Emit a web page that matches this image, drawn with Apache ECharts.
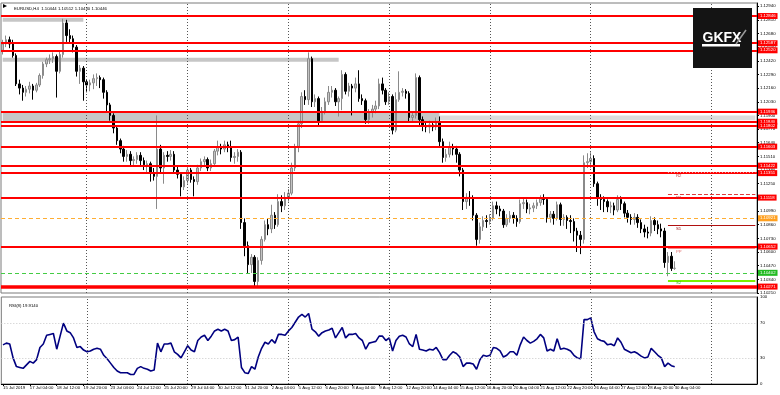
<!DOCTYPE html>
<html><head><meta charset="utf-8">
<script src="https://cdn.jsdelivr.net/npm/echarts@6/dist/echarts.min.js"></script>
<style>html,body{margin:0;padding:0;background:#fff}#c{width:780px;height:395px}</style>
</head><body><div id="c"></div>
<script>
// ---- x axis tick labels (one every 8 H4 bars, starting at the first visible bar)
const xTickLabels = ["15 Jul 2019","17 Jul 04:00","18 Jul 12:00","19 Jul 20:00","23 Jul 04:00","24 Jul 12:00","25 Jul 20:00","29 Jul 04:00","30 Jul 12:00","31 Jul 20:00","2 Aug 04:00","5 Aug 12:00","6 Aug 20:00","8 Aug 04:00","9 Aug 12:00","12 Aug 20:00","14 Aug 04:00","15 Aug 12:00","16 Aug 20:00","20 Aug 04:00","21 Aug 12:00","22 Aug 20:00","26 Aug 04:00","27 Aug 12:00","28 Aug 20:00","30 Aug 04:00"];
const tickStep = 8;
const totalSlots = 225;            // 201 bars + empty future space
const weekLineSlots = [25,55,85,115,145,175,211];

// ---- candles [open, close, low, high]
const candles = [
[1.1252,1.1258,1.1248,1.1262],[1.1258,1.1262,1.1255,1.1266],[1.1262,1.1258,1.1254,1.1265],[1.1258,1.1247,1.1245,1.1262],[1.1247,1.1220,1.1218,1.1249],
[1.1220,1.1216,1.1210,1.1224],[1.1216,1.1212,1.1204,1.1219],[1.1212,1.1215,1.1208,1.1218],[1.1215,1.1218,1.1211,1.1222],[1.1218,1.1214,1.1205,1.1220],
[1.1214,1.1219,1.1212,1.1221],[1.1219,1.1228,1.1217,1.1230],[1.1228,1.1239,1.1225,1.1241],[1.1239,1.1243,1.1236,1.1245],[1.1243,1.1244,1.1239,1.1248],
[1.1244,1.1246,1.1240,1.1250],[1.1246,1.1232,1.1207,1.1248],[1.1232,1.1248,1.1230,1.1252],[1.1248,1.1278,1.1245,1.1282],[1.1278,1.1266,1.1260,1.1281],
[1.1266,1.1263,1.1258,1.1272],[1.1263,1.1255,1.1250,1.1266],[1.1255,1.1232,1.1227,1.1257],[1.1232,1.1235,1.1220,1.1238],[1.1235,1.1222,1.1204,1.1237],
[1.1222,1.1219,1.1212,1.1224],[1.1219,1.1221,1.1213,1.1224],[1.1221,1.1225,1.1215,1.1229],[1.1225,1.1226,1.1218,1.1230],[1.1226,1.1224,1.1216,1.1228],
[1.1224,1.1212,1.1206,1.1226],[1.1212,1.1200,1.1194,1.1214],[1.1200,1.1190,1.1185,1.1202],[1.1190,1.1178,1.1173,1.1192],[1.1178,1.1166,1.1162,1.1180],
[1.1166,1.1158,1.1154,1.1168],[1.1158,1.1151,1.1146,1.1161],[1.1151,1.1153,1.1146,1.1157],[1.1153,1.1147,1.1142,1.1156],[1.1147,1.1148,1.1142,1.1151],
[1.1148,1.1152,1.1144,1.1155],[1.1152,1.1147,1.1141,1.1155],[1.1147,1.1143,1.1138,1.1150],[1.1143,1.1144,1.1136,1.1147],[1.1144,1.1135,1.1127,1.1146],
[1.1135,1.1132,1.1128,1.1140],[1.1132,1.1158,1.1101,1.1190],[1.1158,1.1140,1.1135,1.1162],[1.1140,1.1152,1.1125,1.1155],[1.1152,1.1151,1.1146,1.1156],
[1.1151,1.1153,1.1147,1.1157],[1.1153,1.1138,1.1135,1.1156],[1.1138,1.1134,1.1130,1.1141],[1.1134,1.1122,1.1113,1.1136],[1.1122,1.1128,1.1119,1.1132],
[1.1128,1.1138,1.1125,1.1141],[1.1138,1.1129,1.1126,1.1140],[1.1129,1.1127,1.1113,1.1132],[1.1127,1.1140,1.1124,1.1143],[1.1140,1.1146,1.1137,1.1149],
[1.1146,1.1148,1.1142,1.1151],[1.1148,1.1140,1.1137,1.1150],[1.1140,1.1144,1.1137,1.1148],[1.1144,1.1156,1.1141,1.1158],[1.1156,1.1160,1.1152,1.1166],
[1.1160,1.1158,1.1153,1.1163],[1.1158,1.1162,1.1155,1.1166],[1.1162,1.1160,1.1155,1.1165],[1.1160,1.1150,1.1146,1.1166],[1.1150,1.1151,1.1144,1.1155],
[1.1151,1.1155,1.1146,1.1158],[1.1155,1.1088,1.1082,1.1157],[1.1088,1.1066,1.1056,1.1092],[1.1066,1.1048,1.1040,1.1070],[1.1048,1.1055,1.1040,1.1058],
[1.1055,1.1032,1.1027,1.1057],[1.1032,1.1052,1.1027,1.1055],[1.1052,1.1072,1.1048,1.1075],[1.1072,1.1086,1.1070,1.1090],[1.1086,1.1082,1.1076,1.1092],
[1.1082,1.1095,1.1078,1.1105],[1.1095,1.1086,1.1082,1.1098],[1.1086,1.1108,1.1084,1.1115],[1.1108,1.1104,1.1098,1.1114],[1.1104,1.1112,1.1100,1.1117],
[1.1112,1.1116,1.1108,1.1120],[1.1116,1.1140,1.1114,1.1145],[1.1140,1.1160,1.1137,1.1163],[1.1160,1.1182,1.1155,1.1185],[1.1182,1.1208,1.1178,1.1212],
[1.1208,1.1205,1.1200,1.1214],[1.1205,1.1244,1.1200,1.1250],[1.1244,1.1203,1.1198,1.1246],[1.1203,1.1206,1.1198,1.1210],[1.1206,1.1185,1.1180,1.1208],
[1.1185,1.1194,1.1183,1.1198],[1.1194,1.1203,1.1191,1.1207],[1.1203,1.1212,1.1200,1.1218],[1.1212,1.1214,1.1207,1.1218],[1.1214,1.1203,1.1199,1.1216],
[1.1203,1.1206,1.1189,1.1208],[1.1206,1.1229,1.1195,1.1233],[1.1229,1.1213,1.1210,1.1231],[1.1213,1.1218,1.1208,1.1221],[1.1218,1.1216,1.1190,1.1220],
[1.1216,1.1220,1.1212,1.1226],[1.1220,1.1206,1.1203,1.1233],[1.1206,1.1204,1.1200,1.1210],[1.1204,1.1186,1.1182,1.1206],[1.1186,1.1193,1.1182,1.1196],
[1.1193,1.1196,1.1188,1.1200],[1.1196,1.1199,1.1192,1.1204],[1.1199,1.1220,1.1196,1.1225],[1.1220,1.1214,1.1210,1.1226],[1.1214,1.1203,1.1200,1.1216],
[1.1203,1.1208,1.1200,1.1212],[1.1208,1.1176,1.1172,1.1210],[1.1176,1.1205,1.1174,1.1212],[1.1205,1.1212,1.1203,1.1232],[1.1212,1.1213,1.1208,1.1216],
[1.1213,1.1211,1.1206,1.1215],[1.1211,1.1188,1.1183,1.1213],[1.1188,1.1190,1.1184,1.1193],[1.1190,1.1226,1.1187,1.1230],[1.1226,1.1186,1.1180,1.1228],
[1.1186,1.1180,1.1175,1.1189],[1.1180,1.1179,1.1174,1.1184],[1.1179,1.1181,1.1173,1.1185],[1.1181,1.1179,1.1175,1.1184],[1.1179,1.1183,1.1176,1.1188],
[1.1183,1.1165,1.1160,1.1189],[1.1165,1.1150,1.1145,1.1168],[1.1150,1.1153,1.1146,1.1158],[1.1153,1.1160,1.1150,1.1165],[1.1160,1.1158,1.1152,1.1163],
[1.1158,1.1153,1.1145,1.1161],[1.1153,1.1138,1.1132,1.1155],[1.1138,1.1108,1.1100,1.1140],[1.1108,1.1112,1.1101,1.1116],[1.1112,1.1111,1.1104,1.1118],
[1.1111,1.1095,1.1090,1.1114],[1.1095,1.1072,1.1066,1.1097],[1.1072,1.1084,1.1068,1.1088],[1.1084,1.1090,1.1080,1.1094],[1.1090,1.1089,1.1083,1.1095],
[1.1089,1.1092,1.1086,1.1096],[1.1092,1.1104,1.1090,1.1108],[1.1104,1.1101,1.1096,1.1108],[1.1101,1.1099,1.1094,1.1104],[1.1099,1.1086,1.1083,1.1101],
[1.1086,1.1092,1.1084,1.1096],[1.1092,1.1095,1.1088,1.1099],[1.1095,1.1092,1.1087,1.1098],[1.1092,1.1089,1.1084,1.1095],[1.1089,1.1106,1.1087,1.1110],
[1.1106,1.1107,1.1101,1.1111],[1.1107,1.1101,1.1097,1.1110],[1.1101,1.1102,1.1096,1.1106],[1.1102,1.1104,1.1098,1.1107],[1.1104,1.1107,1.1101,1.1110],
[1.1107,1.1111,1.1104,1.1114],[1.1111,1.1110,1.1105,1.1115],[1.1110,1.1093,1.1088,1.1112],[1.1093,1.1096,1.1088,1.1099],[1.1096,1.1092,1.1086,1.1099],
[1.1092,1.1105,1.1090,1.1108],[1.1105,1.1091,1.1085,1.1107],[1.1091,1.1093,1.1085,1.1096],[1.1093,1.1090,1.1082,1.1095],[1.1090,1.1089,1.1078,1.1095],
[1.1089,1.1080,1.1070,1.1092],[1.1080,1.1076,1.1060,1.1083],[1.1076,1.1072,1.1058,1.1080],[1.1072,1.1145,1.1068,1.1152],[1.1145,1.1146,1.1140,1.1154],
[1.1146,1.1149,1.1140,1.1155],[1.1149,1.1125,1.1122,1.1152],[1.1125,1.1112,1.1104,1.1127],[1.1112,1.1110,1.1100,1.1115],[1.1110,1.1108,1.1098,1.1113],
[1.1108,1.1103,1.1098,1.1110],[1.1103,1.1104,1.1097,1.1108],[1.1104,1.1100,1.1095,1.1107],[1.1100,1.1110,1.1098,1.1114],[1.1110,1.1106,1.1100,1.1113],
[1.1106,1.1097,1.1093,1.1108],[1.1097,1.1093,1.1088,1.1100],[1.1093,1.1091,1.1086,1.1096],[1.1091,1.1093,1.1086,1.1097],[1.1093,1.1088,1.1083,1.1096],
[1.1088,1.1082,1.1078,1.1091],[1.1082,1.1079,1.1074,1.1086],[1.1079,1.1078,1.1073,1.1084],[1.1078,1.1090,1.1075,1.1094],[1.1090,1.1086,1.1080,1.1093],
[1.1086,1.1082,1.1077,1.1090],[1.1082,1.1080,1.1074,1.1087],[1.1080,1.1050,1.1045,1.1083],[1.1050,1.1056,1.1037,1.1060],[1.1056,1.10444,1.1042,1.1060],
[1.10444,1.10446,1.10430,1.10512]
];

// ---- RSI(8)
const rsi = [
45,47,46,30,20,19,18,22,26,24,
28,42,46,56,57,58,40,55,70,61,
59,53,42,43,39,37,38,40,41,40,
33,29,24,19,15,13,13,13,11,11,
18,20,18,17,15,16,47,37,46,46,
47,37,34,30,37,44,39,37,50,54,
56,50,55,61,63,61,63,61,50,51,
54,19,13,12,20,17,31,41,48,46,
51,47,57,57,56,61,65,71,77,80,
77,81,63,60,55,59,61,62,64,53,
59,65,53,57,57,58,53,50,40,47,
48,49,55,55,50,53,38,50,55,56,
54,46,43,57,40,39,38,40,39,42,
36,28,28,33,37,35,31,20,24,24,
23,17,28,33,32,33,42,41,38,31,
33,37,37,33,45,54,50,47,49,52,
57,53,38,40,38,52,40,41,40,38,
33,30,29,74,74,76,60,52,50,49,
45,46,44,53,48,40,38,36,37,35,
32,30,31,41,37,33,30,20,24,21,
19.9
];
const rsiLevels = [30, 70];
const rsiLabels = [0, 30, 70, 100];

// ---- price axis
const priceMin = 1.1021, priceMax = 1.1297, priceStep = 0.0013;

// ---- drawn objects (price levels)
const srLevels = [1.12846,1.12587,1.12520,1.11936,1.11840,1.11802,1.11603,1.11422,1.11351,1.11118,1.10652];
const mainSupport = 1.10271;
const zones = [[1.12830,1.12791,0,24],[1.12449,1.12411,0,100],[1.11926,1.11831,0,130]];
const zoneLight = [1.11900,1.11855,130,224];
const d1High = 1.10921, d1Low = 1.10402, bidPrice = 1.10446;
const pivotNames = ["R2","R1","S1","PP","S2"];
const pivotValues = [1.11355,1.11146,1.10851,1.10633,1.10331];
const pivotStart = 198, pivotEnd = 224;

const FONT = 'Liberation Sans, Arial, sans-serif';
const FS = 4.3;

const cats = [];
for (let i = 0; i < totalSlots; i++) cats.push(String(i));
const tickMap = {};
xTickLabels.forEach((t, j) => { tickMap[j * tickStep] = t; });
const isTick = (idx) => tickMap[idx] !== undefined;

function tag(bg, txt, col) {
  return {show: true, position: 'end', distance: 1, formatter: txt, backgroundColor: bg,
    color: col || '#fff', fontSize: FS, fontFamily: FONT, padding: [1, 2, 0, 2], lineHeight: 5};
}

const mlData = [];
weekLineSlots.forEach(s => mlData.push({xAxis: s, lineStyle: {color: '#555', type: [1, 2], width: 1}, label: {show: false}}));
srLevels.forEach(v => mlData.push({yAxis: v, lineStyle: {color: '#ff0000', width: 2, type: 'solid'}, label: tag('#ff0000', v.toFixed(5))}));
mlData.push({yAxis: mainSupport, lineStyle: {color: '#ff0000', width: 3.5, type: 'solid'}, label: tag('#ff0000', mainSupport.toFixed(5))});
mlData.push({yAxis: d1High, lineStyle: {color: '#ffae33', width: 1, type: [4, 3]}, label: tag('#ffa020', d1High.toFixed(5))});
mlData.push({yAxis: d1Low, lineStyle: {color: '#44cc44', width: 1, type: [4, 3]}, label: tag('#22bb22', d1Low.toFixed(5))});
mlData.push({yAxis: bidPrice, lineStyle: {opacity: 0}, label: tag('#000000', bidPrice.toFixed(5))});
const pivotStyles = {
  R2: {color: '#f0a0a0', width: 1, type: [1, 2]},
  R1: {color: '#e03a3a', width: 1, type: [4, 2]},
  S1: {color: '#b01010', width: 1, type: 'solid'},
  PP: {color: '#f08a8a', width: 1, type: 'solid'},
  S2: {color: '#7cf000', width: 2, type: 'solid'}
};
const pivotTextCol = {R2: '#c04040', R1: '#c03030', S1: '#a01010', PP: '#e07070', S2: '#40b020'};
pivotNames.forEach((n, k) => {
  mlData.push([{coord: [pivotStart, pivotValues[k]], lineStyle: pivotStyles[n],
    label: {show: true, position: 'insideStartBottom', formatter: n, color: pivotTextCol[n], fontSize: FS, fontFamily: FONT, distance: [8, 1]}},
    {coord: [pivotEnd, pivotValues[k]]}]);
});
mlData.push([{coord: [pivotStart, d1High], lineStyle: {opacity: 0},
  label: {show: true, position: 'insideStartBottom', formatter: 'D1 High', color: '#e08a00', fontSize: FS, fontFamily: FONT, distance: [1, 1]}},
  {coord: [pivotEnd, d1High]}]);
mlData.push([{coord: [pivotStart, d1Low], lineStyle: {opacity: 0},
  label: {show: true, position: 'insideStartBottom', formatter: 'D1 Low', color: '#30a030', fontSize: FS, fontFamily: FONT, distance: [1, 1]}},
  {coord: [pivotEnd, d1Low]}]);

const maData = zones.map(z => [{xAxis: z[2], yAxis: z[0]}, {xAxis: z[3], yAxis: z[1]}]);
maData.push([{xAxis: zoneLight[2], yAxis: zoneLight[0], itemStyle: {color: '#dcdcdc'}}, {xAxis: zoneLight[3], yAxis: zoneLight[1]}]);

const rsiMl = [];
weekLineSlots.forEach(s => rsiMl.push({xAxis: s, lineStyle: {color: '#555', type: [1, 2], width: 1}}));
rsiLevels.forEach(v => rsiMl.push({yAxis: v, lineStyle: {color: '#c8c8c8', type: [1, 2], width: 1}}));

const chart = echarts.init(document.getElementById('c'), null, {renderer: 'canvas'});
chart.setOption({
  animation: false,
  backgroundColor: '#ffffff',
  textStyle: {fontFamily: FONT},
  title: [
    {text: 'EURUSD,H4  1.10444 1.10512 1.10430 1.10446', left: 9, top: 2,
      textStyle: {fontSize: FS, fontWeight: 'normal', color: '#000', fontFamily: FONT}},
    {text: 'RSI(8) 19.9140', left: 4, top: 299,
      textStyle: {fontSize: FS, fontWeight: 'normal', color: '#000', fontFamily: FONT}}
  ],
  grid: [
    {left: 1, right: 23, top: 3, height: 290, show: true, borderColor: '#7a7a7a', borderWidth: 1},
    {left: 1, right: 23, top: 297, height: 87, show: true, borderColor: '#7a7a7a', borderWidth: 1}
  ],
  xAxis: [
    {type: 'category', gridIndex: 0, data: cats, boundaryGap: true,
      axisLine: {show: false}, axisTick: {show: false}, axisLabel: {show: false}, splitLine: {show: false}},
    {type: 'category', gridIndex: 1, data: cats, boundaryGap: true,
      axisLine: {show: true, lineStyle: {color: '#000'}},
      axisTick: {show: true, interval: (i) => isTick(i), length: 2, alignWithLabel: true, lineStyle: {color: '#000'}},
      axisLabel: {show: true, interval: (i) => isTick(i), formatter: (v, i) => tickMap[i] || '',
        align: 'left', fontSize: FS, fontFamily: FONT, color: '#000', margin: 2},
      splitLine: {show: false}}
  ],
  yAxis: [
    {type: 'value', gridIndex: 0, position: 'right', min: priceMin, max: priceMax, interval: priceStep,
      axisLine: {show: true, lineStyle: {color: '#000'}},
      axisTick: {show: true, length: 2, lineStyle: {color: '#000'}},
      splitLine: {show: false},
      axisLabel: {fontSize: FS, fontFamily: FONT, color: '#000', margin: 3, showMaxLabel: false,
        formatter: (v) => v.toFixed(5)}},
    {type: 'value', gridIndex: 1, position: 'right', min: 0, max: 100, interval: 10,
      axisLine: {show: true, lineStyle: {color: '#000'}},
      axisTick: {show: false}, splitLine: {show: false},
      axisLabel: {fontSize: FS, fontFamily: FONT, color: '#000', margin: 3,
        formatter: (v) => rsiLabels.indexOf(Math.round(v)) >= 0 ? String(Math.round(v)) : ''}}
  ],
  series: [
    {type: 'candlestick', xAxisIndex: 0, yAxisIndex: 0, data: candles, barWidth: 2,
      itemStyle: {color: '#c4c4c4', color0: '#000000', borderColor: '#8a8a8a', borderColor0: '#000000', borderWidth: 1},
      markArea: {silent: true, itemStyle: {color: '#c6c6c6'}, data: maData},
      markLine: {silent: true, precision: 5, symbol: ['none', 'none'], animation: false, data: mlData}},
    {type: 'line', xAxisIndex: 1, yAxisIndex: 1, data: rsi, showSymbol: false, symbol: 'none',
      lineStyle: {color: '#000080', width: 1.6}, z: 3,
      markLine: {silent: true, precision: 2, symbol: ['none', 'none'], animation: false, label: {show: false}, data: rsiMl}}
  ],
  graphic: [
    {type: 'polygon', shape: {points: [[3, 4], [7, 6], [3, 8]]}, style: {fill: '#000'}},
    {type: 'rect', shape: {x: 693, y: 8, width: 59, height: 60}, style: {fill: '#141414'}, z: 100},
    {type: 'text', x: 722, y: 38, style: {text: 'GKFX', fill: '#ffffff', font: 'bold 14px ' + FONT, align: 'center', verticalAlign: 'middle'}, z: 101},
    {type: 'line', shape: {x1: 736, y1: 44, x2: 746, y2: 30}, style: {stroke: '#9a9a9a', lineWidth: 1.5}, z: 102},
    {type: 'rect', shape: {x: 702, y: 44, width: 38, height: 2.5}, style: {fill: '#ffffff'}, z: 101}
  ]
});
</script>
</body></html>
